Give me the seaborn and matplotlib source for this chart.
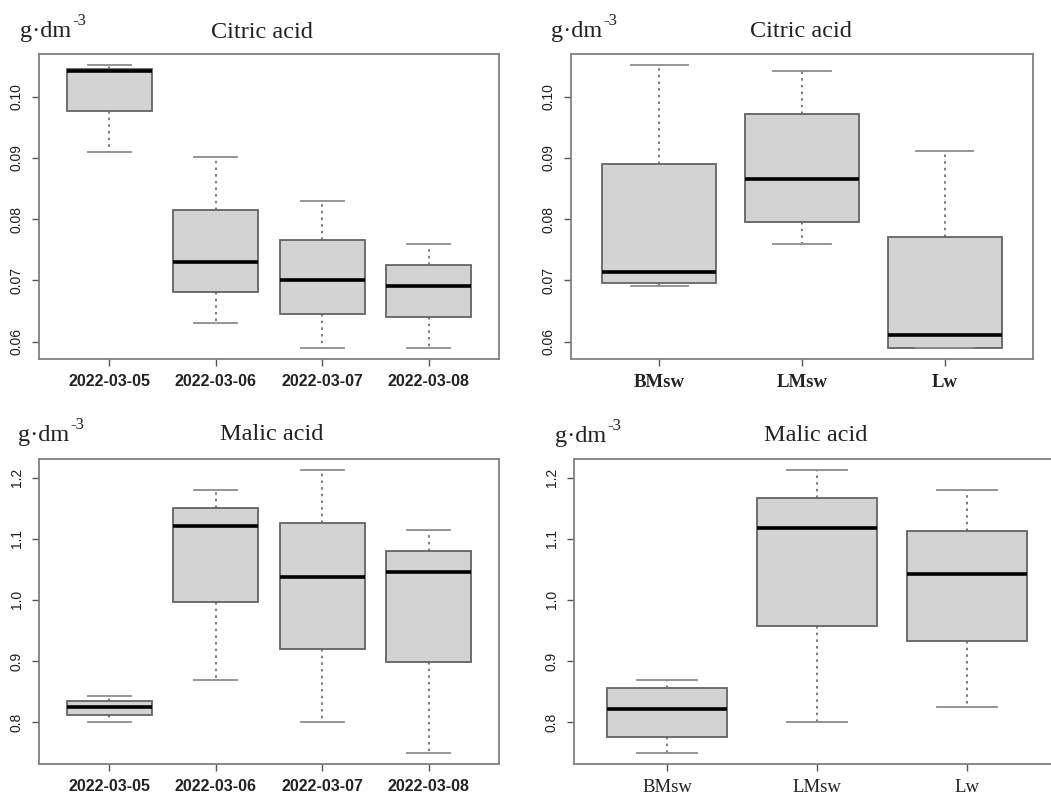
import numpy as np
import pandas as pd
import matplotlib
matplotlib.use('Agg')
import matplotlib.pyplot as plt
import seaborn as sns

dates = ['2022-03-05', '2022-03-06', '2022-03-07', '2022-03-08']
sites = ['BMsw', 'LMsw', 'Lw']

# five-number summaries: min, q1, median, q3, max
citric_by_date = [
    [0.091, 0.0976, 0.1041, 0.1045, 0.1051],
    [0.063, 0.0681, 0.0730, 0.0815, 0.0901],
    [0.059, 0.0645, 0.0700, 0.0765, 0.0830],
    [0.059, 0.0640, 0.0690, 0.0725, 0.0760],
]
citric_by_site = [
    [0.069, 0.0695, 0.0714, 0.0890, 0.1051],
    [0.076, 0.0795, 0.0865, 0.0971, 0.1041],
    [0.059, 0.0590, 0.0610, 0.0770, 0.0911],
]
malic_by_date = [
    [0.800, 0.812, 0.825, 0.834, 0.843],
    [0.869, 0.996, 1.121, 1.150, 1.179],
    [0.800, 0.919, 1.038, 1.125, 1.212],
    [0.750, 0.898, 1.045, 1.080, 1.114],
]
malic_by_site = [
    [0.750, 0.775, 0.822, 0.856, 0.869],
    [0.800, 0.957, 1.118, 1.167, 1.212],
    [0.825, 0.932, 1.042, 1.113, 1.179],
]

citric_ticks = [0.06, 0.07, 0.08, 0.09, 0.10]
malic_ticks = [0.8, 0.9, 1.0, 1.1, 1.2]

W, H = 1051, 795
SANS = 'Liberation Sans'
SERIF = 'Liberation Serif'
FRAME = '#808080'
EDGE = '#646464'


def draw_panel(ax, groups, stats, ticks, fmt, tick_font):
    df = pd.DataFrame({'group': np.repeat(groups, 5), 'value': np.concatenate(stats)})
    sns.boxplot(data=df, x='group', y='value', order=groups, ax=ax, whis=(0, 100),
                width=0.8, color='#d3d3d3', saturation=1, linecolor=EDGE, linewidth=1.3,
                showfliers=False,
                medianprops={'color': 'black', 'linewidth': 2.6},
                whiskerprops={'linestyle': (0, (1.5, 2.5)), 'color': EDGE, 'linewidth': 1.2},
                capprops={'color': '#8c8c8c', 'linewidth': 1.3})
    n = len(groups)
    ax.set_xlim(-0.5 - 0.04 * n, n - 0.5 + 0.04 * n)
    allv = np.concatenate(stats)
    lo, hi = allv.min(), allv.max()
    r = hi - lo
    ax.set_ylim(lo - 0.04 * r, hi + 0.04 * r)
    ax.set_yticks(ticks)
    ax.set_yticklabels([fmt % t for t in ticks], rotation=90, va='center',
                       fontfamily=SANS, fontsize=10, color='#1e1e1e')
    ax.set_xticks(range(n))
    ax.set_xticklabels(groups, **tick_font)
    ax.set_xlabel('')
    ax.set_ylabel('')
    ax.tick_params(length=5, width=1, color='#555555', pad=6)
    for s in ax.spines.values():
        s.set_color(FRAME)
        s.set_linewidth(1.3)


fig = plt.figure(figsize=(W / 100, H / 100), dpi=100)

ax1 = fig.add_axes([39 / W, 1 - 359 / H, 460 / W, 305 / H])
ax2 = fig.add_axes([571 / W, 1 - 359 / H, 462 / W, 305 / H])
ax3 = fig.add_axes([39 / W, 1 - 764 / H, 460 / W, 305 / H])
ax4 = fig.add_axes([574 / W, 1 - 764 / H, 486 / W, 305 / H])

date_font = {'fontfamily': SANS, 'fontsize': 11.5, 'fontweight': 'bold', 'color': '#222222'}
draw_panel(ax1, dates, citric_by_date, citric_ticks, '%.2f', date_font)
draw_panel(ax2, sites, citric_by_site, citric_ticks, '%.2f',
           {'fontfamily': SERIF, 'fontsize': 13.5, 'fontweight': 'bold', 'color': '#222222'})
draw_panel(ax3, dates, malic_by_date, malic_ticks, '%.1f', date_font)
draw_panel(ax4, sites, malic_by_site, malic_ticks, '%.1f',
           {'fontfamily': SERIF, 'fontsize': 13.5, 'color': '#222222'})

# titles and unit labels (pixel positions of text baselines)
titles = [('Citric acid', 262, 38), ('Citric acid', 801, 37),
          ('Malic acid', 272, 440), ('Malic acid', 816, 441)]
for t, x, y in titles:
    fig.text(x / W, 1 - y / H, t, ha='center', va='baseline', fontfamily=SERIF,
             fontsize=17.5, color='#222222')

units = [(20, 37), (551, 37), (18, 441), (555, 442)]
for x, y in units:
    base = fig.text(x / W, 1 - y / H, 'g·dm', ha='left', va='baseline',
                    fontfamily=SERIF, fontsize=17.5, color='#222222')
    fig.texts.append(matplotlib.text.Annotation(
        '-3', xy=(1.0, 0.62), xycoords=base, xytext=(1, 0), textcoords='offset points',
        ha='left', va='bottom', fontfamily=SERIF, fontsize=12, color='#222222'))
    fig.texts[-1].set_figure(fig)

fig.savefig('out.png', dpi=100)
